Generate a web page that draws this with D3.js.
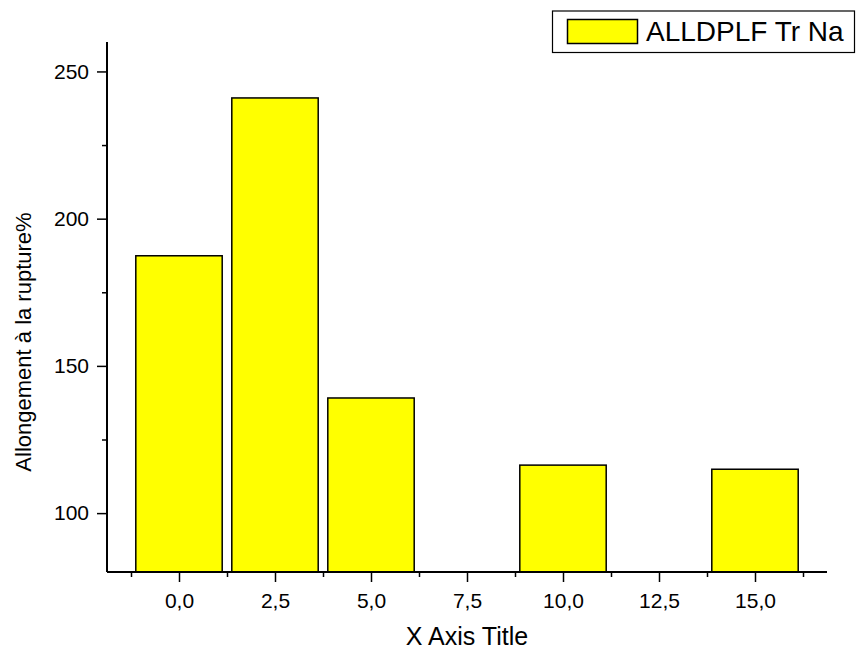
<!DOCTYPE html>
<html>
<head>
<meta charset="utf-8">
<script src="https://cdn.jsdelivr.net/npm/d3@7"></script>
<style>
  body { margin: 0; background: #fff; }
  text { font-family: "Liberation Sans", Arial, sans-serif; fill: #000; }
</style>
</head>
<body>
<svg id="chart" width="856" height="654"></svg>
<script>
// Elongation at break for each concentration
const concentrations = [0, 2.5, 5, 10, 15];
const elongation = [187.4, 241.0, 139.1, 116.3, 114.9];
const seriesName = "ALLDPLF Tr Na";
const xMajorTicks = [0, 2.5, 5, 7.5, 10, 12.5, 15];
const xMinorTicks = [-1.25, 1.25, 3.75, 6.25, 8.75, 11.25, 13.75, 16.25];
const yMajorTicks = [100, 150, 200, 250];
const yMinorTicks = [125, 175, 225];
const xTitle = "X Axis Title";
const yTitle = "Allongement à la rupture%";

const svg = d3.select("#chart");
const plotLeft = 107, plotRight = 827, plotTop = 42, plotBottom = 572;

const x = d3.scaleLinear().domain([-1.875, 16.875]).range([plotLeft, plotRight]);
const y = d3.scaleLinear().domain([80, 260]).range([plotBottom, plotTop]);
const barWidth = 2.25;
const fmt = v => d3.format(".1f")(v).replace(".", ",");

// bars
svg.append("g").selectAll("rect")
  .data(concentrations)
  .join("rect")
  .attr("x", (d) => x(d - barWidth / 2))
  .attr("width", x(barWidth) - x(0))
  .attr("y", (d, i) => y(elongation[i]))
  .attr("height", (d, i) => y(80) - y(elongation[i]))
  .attr("fill", "#ffff00")
  .attr("stroke", "#000")
  .attr("stroke-width", 1.5);

// x axis: major ticks with labels, minor ticks without
svg.append("g").attr("transform", `translate(0,${plotBottom})`)
  .call(d3.axisBottom(x).tickValues(xMajorTicks).tickFormat(fmt).tickSize(10).tickPadding(11));
svg.append("g").attr("transform", `translate(0,${plotBottom})`)
  .call(d3.axisBottom(x).tickValues(xMinorTicks).tickFormat("").tickSize(5));

// y axis
svg.append("g").attr("transform", `translate(${plotLeft},0)`)
  .call(d3.axisLeft(y).tickValues(yMajorTicks).tickSize(10).tickPadding(8));
svg.append("g").attr("transform", `translate(${plotLeft},0)`)
  .call(d3.axisLeft(y).tickValues(yMinorTicks).tickFormat("").tickSize(5));

svg.selectAll(".domain").remove();
svg.append("line").attr("x1", plotLeft).attr("x2", plotRight).attr("y1", plotBottom).attr("y2", plotBottom)
  .attr("stroke", "#000").attr("stroke-width", 2);
svg.append("line").attr("x1", plotLeft).attr("x2", plotLeft).attr("y1", plotTop).attr("y2", plotBottom)
  .attr("stroke", "#000").attr("stroke-width", 2);

svg.selectAll(".tick line").attr("stroke", "#000").attr("stroke-width", 1.5);
svg.selectAll("g").attr("font-family", null).attr("font-size", null);
svg.selectAll(".tick text")
  .style("font-size", "21px")
  .style("font-family", "'Liberation Sans', Arial, sans-serif");

// axis titles
svg.append("text")
  .attr("x", (plotLeft + plotRight) / 2).attr("y", 645)
  .attr("text-anchor", "middle")
  .style("font-size", "25px")
  .text(xTitle);
svg.append("text")
  .attr("transform", `translate(31,342) rotate(-90)`)
  .attr("text-anchor", "middle")
  .style("font-size", "22px")
  .text(yTitle);

// legend
const legend = svg.append("g");
legend.append("rect")
  .attr("x", 552.5).attr("y", 11).attr("width", 302).attr("height", 41.5)
  .attr("fill", "#fff").attr("stroke", "#000").attr("stroke-width", 1.2);
legend.append("rect")
  .attr("x", 567.5).attr("y", 19.5).attr("width", 70).attr("height", 24)
  .attr("fill", "#ffff00").attr("stroke", "#000").attr("stroke-width", 1.5);
legend.append("text")
  .attr("x", 646).attr("y", 41)
  .style("font-size", "28px")
  .text(seriesName);
</script>
</body>
</html>
